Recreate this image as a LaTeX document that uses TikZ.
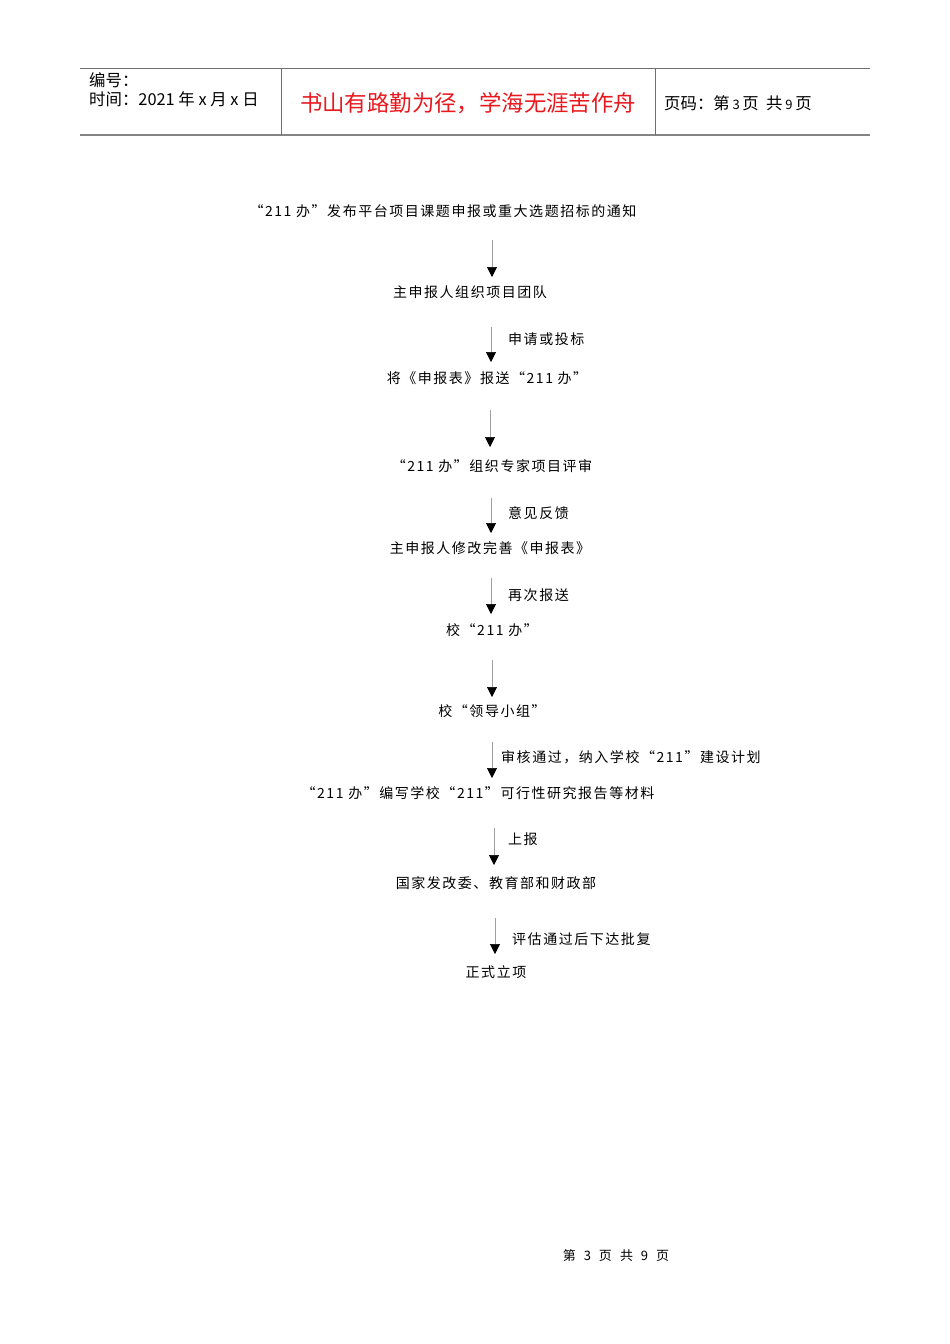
\documentclass[tikz,border=0pt]{standalone}
\usepackage{fontspec}
\usetikzlibrary{arrows.meta}
\newfontfamily\cjk{Noto Sans CJK SC}
\newfontfamily\cjkflow[LetterSpace=11]{Noto Sans CJK SC}
\definecolor{headred}{RGB}{232,24,30}
\definecolor{rulegray}{RGB}{110,110,110}
\tikzset{
  flowtext/.style={font=\cjkflow\fontsize{14}{16}\selectfont, inner sep=0pt, anchor=center},
  lbltext/.style={font=\cjkflow\fontsize{14}{16}\selectfont, inner sep=0pt, anchor=west},
  flowarrow/.style={draw=gray!75, line width=0.7pt, -{Triangle[width=10pt,length=10pt,black]}},
  headtext/.style={font=\cjk\fontsize{16.4}{18}\selectfont, inner sep=0pt, anchor=west},
}
\begin{document}
\begin{tikzpicture}[x=1pt,y=-1pt]
\useasboundingbox (0,0) rectangle (950,1344);
% header
\coordinate (hTL) at (80,68);
\coordinate (hTR) at (870,68);
\coordinate (hBL) at (80,135);
\coordinate (hBR) at (870,135);
\draw[rulegray, line width=0.8pt] (hTL) -- (hTR);
\draw[rulegray!85, line width=2pt] (hBL) -- (hBR);
\coordinate (v1t) at (281,68); \coordinate (v1b) at (281,135);
\coordinate (v2t) at (655,68); \coordinate (v2b) at (655,135);
\draw[rulegray, line width=0.8pt] (v1t) -- (v1b);
\draw[rulegray, line width=0.8pt] (v2t) -- (v2b);
\node[headtext] (h1) at (89,80) {编号：};
\node[headtext] (h2) at (89,99) {时间：2021 年 x 月 x 日};
\node[font=\cjk\fontsize{22.4}{25}\selectfont, text=headred, inner sep=0pt] (motto) at (468,103) {书山有路勤为径，学海无涯苦作舟};
\node[headtext] (h3) at (664,103) {页码：第\,{\fontsize{13}{14}\selectfont 3}\,页\ \ 共\,{\fontsize{13}{14}\selectfont 9}\,页};

% flow nodes
\node[flowtext] (n1) at (443,211) {“211 办”发布平台项目课题申报或重大选题招标的通知};
\node[flowtext] (n2) at (470,292) {主申报人组织项目团队};
\node[flowtext] (n3) at (487,378) {将《申报表》报送“211 办”};
\node[flowtext] (n4) at (492,466) {“211 办”组织专家项目评审};
\node[flowtext] (n5) at (490,548) {主申报人修改完善《申报表》};
\node[flowtext] (n6) at (492,630) {校“211 办”};
\node[flowtext] (n7) at (492,711) {校“领导小组”};
\node[flowtext] (n8) at (478,793) {“211 办”编写学校“211”可行性研究报告等材料};
\node[flowtext] (n9) at (496,883) {国家发改委、教育部和财政部};
\node[flowtext] (n10) at (496,972) {正式立项};

% arrows
\coordinate (a1s) at (492,240); \coordinate (a1e) at (492,277);
\coordinate (a2s) at (491,327); \coordinate (a2e) at (491,362);
\coordinate (a3s) at (490,410); \coordinate (a3e) at (490,447);
\coordinate (a4s) at (491,498); \coordinate (a4e) at (491,533);
\coordinate (a5s) at (491,578); \coordinate (a5e) at (491,614);
\coordinate (a6s) at (492,660); \coordinate (a6e) at (492,697);
\coordinate (a7s) at (492,742); \coordinate (a7e) at (492,778);
\coordinate (a8s) at (494,828); \coordinate (a8e) at (494,865);
\coordinate (a9s) at (495,918); \coordinate (a9e) at (495,954);
\draw[flowarrow] (a1s) -- (a1e);
\draw[flowarrow] (a2s) -- (a2e);
\draw[flowarrow] (a3s) -- (a3e);
\draw[flowarrow] (a4s) -- (a4e);
\draw[flowarrow] (a5s) -- (a5e);
\draw[flowarrow] (a6s) -- (a6e);
\draw[flowarrow] (a7s) -- (a7e);
\draw[flowarrow] (a8s) -- (a8e);
\draw[flowarrow] (a9s) -- (a9e);

% labels
\node[lbltext] (l2) at (508,339) {申请或投标};
\node[lbltext] (l4) at (508,513) {意见反馈};
\node[lbltext] (l5) at (508,595) {再次报送};
\node[lbltext] (l7) at (501,757) {审核通过，纳入学校“211”建设计划};
\node[lbltext] (l8) at (508,839) {上报};
\node[lbltext] (l9) at (512,939) {评估通过后下达批复};

% footer
\node[font=\cjk\fontsize{13}{15}\selectfont, inner sep=0pt] (foot) at (616,1256) {第\hspace{8pt}3\hspace{8pt}页\hspace{8pt}共\hspace{8pt}9\hspace{8pt}页};
\end{tikzpicture}
\end{document}
